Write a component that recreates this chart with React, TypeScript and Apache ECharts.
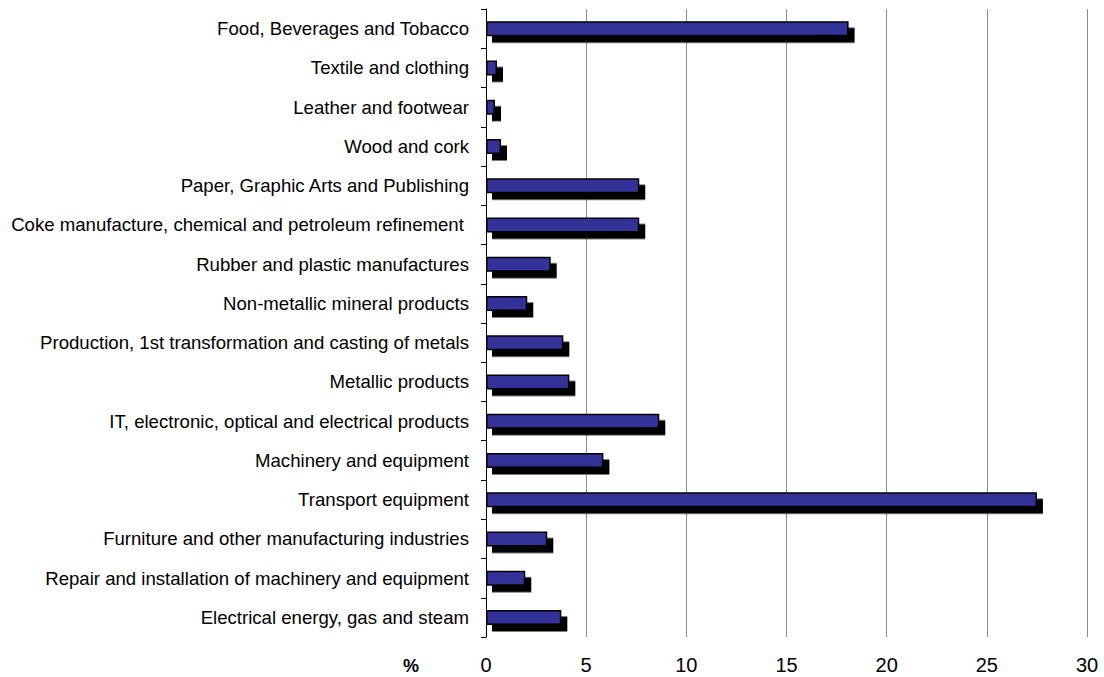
import React, { useEffect, useRef } from "react";
import * as echarts from "echarts";

const categories = [
  "Food, Beverages and Tobacco",
  "Textile and clothing",
  "Leather and footwear",
  "Wood and cork",
  "Paper, Graphic Arts and Publishing",
  "Coke manufacture, chemical and petroleum refinement ",
  "Rubber and plastic manufactures",
  "Non-metallic mineral products",
  "Production, 1st transformation and casting of metals",
  "Metallic products",
  "IT, electronic, optical and electrical products",
  "Machinery and equipment",
  "Transport equipment",
  "Furniture and other manufacturing industries",
  "Repair and installation of machinery and equipment",
  "Electrical energy, gas and steam",
];

const values = [18.1, 0.55, 0.45, 0.75, 7.65, 7.65, 3.23, 2.06, 3.86, 4.16, 8.65, 5.86, 27.5, 3.06, 1.96, 3.76];

const xTicks = { min: 0, max: 30, interval: 5 };
const unitLabel = "%";

const FONT = "'Liberation Sans', Arial, sans-serif";

export default function App() {
  const ref = useRef<HTMLDivElement>(null);
  useEffect(() => {
    if (!ref.current) return;
    const chart = echarts.init(ref.current, undefined, { renderer: "svg" });
    chart.setOption({
      animation: false,
      backgroundColor: "#ffffff",
      grid: { left: 486, right: 17, top: 9, bottom: 40, containLabel: false },
      xAxis: {
        type: "value",
        min: xTicks.min,
        max: xTicks.max,
        interval: xTicks.interval,
        axisLine: { show: false },
        axisTick: { show: false },
        splitLine: { show: true, lineStyle: { color: "#8c8c8c", width: 1 } },
        axisLabel: { color: "#000", fontSize: 20, fontFamily: FONT, margin: 18 },
      },
      yAxis: {
        type: "category",
        data: categories,
        inverse: true,
        axisLine: { show: true, lineStyle: { color: "#000", width: 1 } },
        axisTick: { show: true, length: 5, lineStyle: { color: "#000" } },
        axisLabel: { color: "#000", fontSize: 18.6, fontFamily: FONT, margin: 17 },
        splitLine: { show: false },
      },
      series: [
        {
          type: "bar",
          data: values,
          barWidth: 15,
          itemStyle: {
            color: "#333399",
            borderColor: "#000",
            borderWidth: 1.5,
            shadowColor: "#000",
            shadowBlur: 0,
            shadowOffsetX: 6,
            shadowOffsetY: 6.5,
          },
        },
      ],
      graphic: [
        {
          type: "text",
          left: 403,
          top: 657,
          style: { text: unitLabel, fontSize: 18, fontWeight: "bold", fontFamily: FONT, fill: "#000" },
        },
      ],
    });
    return () => chart.dispose();
  }, []);
  return <div ref={ref} style={{ width: 1104, height: 677, position: "absolute", left: 0, top: 0 }} />;
}
